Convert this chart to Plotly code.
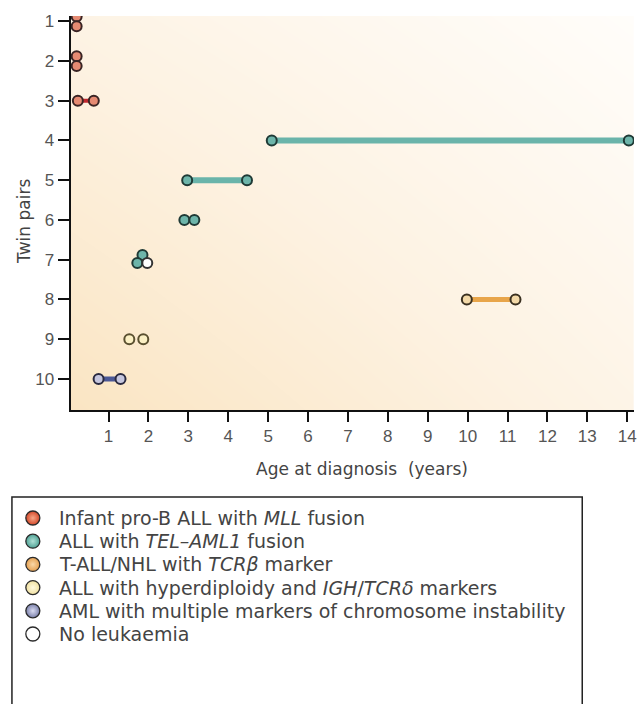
import plotly.graph_objects as go

# ---------------- data ----------------
group_keys = ["MLL", "TEL", "TALL", "HYP", "AML", "NONE"]
group_labels = [
    "Infant pro-B ALL with <i>MLL</i> fusion",
    "ALL with <i>TEL–AML1</i> fusion",
    "T-ALL/NHL with <i>TCRβ</i> marker",
    "ALL with hyperdiploidy and <i>IGH</i>/<i>TCRδ</i> markers",
    "AML with multiple markers of chromosome instability",
    "No leukaemia",
]

twin_pair = [1, 1, 2, 2, 3, 3, 4, 4, 5, 5, 6, 6, 7, 7, 7, 8, 8, 9, 9, 10, 10]
age_years = [0.2, 0.2, 0.2, 0.2, 0.23, 0.63, 5.09, 14.04, 2.97, 4.47, 2.9, 3.15,
             1.85, 1.72, 1.97, 9.98, 11.2, 1.52, 1.87, 0.75, 1.3]
diagnosis = ["MLL", "MLL", "MLL", "MLL", "MLL", "MLL", "TEL", "TEL", "TEL", "TEL",
             "TEL", "TEL", "TEL", "TEL", "NONE", "TALL", "TALL", "HYP", "HYP", "AML", "AML"]
stack_offset = [-0.12, 0.13, -0.12, 0.13, 0, 0, 0, 0, 0, 0, 0, 0,
                -0.12, 0.08, 0.08, 0, 0, 0, 0, 0, 0]
linked_pairs = [3, 4, 5, 8, 10]

pair_ticks = list(range(1, 11))
age_ticks = list(range(1, 15))

# ---------------- styles ----------------
line_color = {"MLL": "#c0282e", "TEL": "#6ab4aa", "TALL": "#e8a54a", "AML": "#4b5896"}
line_width = {"MLL": 4, "TEL": 6, "TALL": 5, "AML": 5}
fill_color = {"MLL": "#e58a72", "TEL": "#6db5aa", "TALL": "#f3d9a8",
              "HYP": "#fbf0c4", "AML": "#c5c6de", "NONE": "#ffffff"}
edge_color = {"MLL": "#3a2424", "TEL": "#1f3a36", "TALL": "#3a3020",
              "HYP": "#5a5030", "AML": "#2a2a40", "NONE": "#333333"}
legend_edge = {"MLL": "#d4482a", "TEL": "#4fa295", "TALL": "#e5a050",
               "HYP": "#f0e0a0", "AML": "#7a80aa", "NONE": "#ffffff"}
legend_center = {"MLL": "#f6a888", "TEL": "#b0e0d6", "TALL": "#fad8a8",
                 "HYP": "#fffae0", "AML": "#dadcf2", "NONE": "#ffffff"}

W, H = 637, 704
X0PX, YAXPX, TOPPX = 71, 410, 16
xr = [0.05, 14.17]
yr = [10.78, 0.87]

fig = go.Figure()

# background gradient (decoration)
fig.add_trace(go.Heatmap(
    x=xr, y=[yr[0], yr[1]], z=[[0.0, 0.6], [0.55, 1.0]],
    colorscale=[[0, "#fae5c3"], [0.5, "#fdf2e2"], [1, "#fffdfa"]],
    zsmooth="best", showscale=False, hoverinfo="skip", xaxis="x", yaxis="y"))

# connecting lines
for p in linked_pairs:
    idx = [i for i, tp in enumerate(twin_pair) if tp == p]
    ages = [age_years[i] for i in idx]
    g = diagnosis[idx[0]]
    fig.add_trace(go.Scatter(
        x=[min(ages), max(ages)], y=[p, p], mode="lines",
        line=dict(color=line_color[g], width=line_width[g]),
        hoverinfo="skip", showlegend=False, xaxis="x", yaxis="y"))

# twin markers
for g in group_keys:
    idx = [i for i, d in enumerate(diagnosis) if d == g]
    if not idx:
        continue
    fig.add_trace(go.Scatter(
        x=[age_years[i] for i in idx],
        y=[twin_pair[i] + stack_offset[i] for i in idx],
        mode="markers",
        marker=dict(size=10, color=fill_color[g],
                    line=dict(color=edge_color[g], width=2)),
        showlegend=False, xaxis="x", yaxis="y"))

# custom legend (pixel-coordinate overlay axes)
LEG_Y0, LEG_DY = 518, 23.2
leg_y = [LEG_Y0 + LEG_DY * i for i in range(len(group_keys))]
fig.add_trace(go.Scatter(
    x=[33] * len(group_keys), y=leg_y, mode="markers",
    marker=dict(size=14, color=[legend_edge[g] for g in group_keys],
                gradient=dict(type="radial", color=[legend_center[g] for g in group_keys]),
                line=dict(color="#2a2a2a", width=1.3)),
    hoverinfo="skip", showlegend=False, xaxis="x2", yaxis="y2"))

annotations = []
for lbl, yy in zip(group_labels, leg_y):
    annotations.append(dict(
        x=57, y=yy, xref="x2", yref="y2", text=lbl, showarrow=False,
        xanchor="left", yanchor="middle",
        font=dict(family="DejaVu Sans", size=19, color="#444444")))

annotations.append(dict(
    x=364, y=469, xref="x2", yref="y2", text="Age at diagnosis&nbsp; (years)",
    showarrow=False, xanchor="center", yanchor="middle",
    font=dict(family="DejaVu Sans", size=17, color="#444444")))
annotations.append(dict(
    x=24, y=221, xref="x2", yref="y2", text="Twin pairs", textangle=-90,
    showarrow=False, xanchor="center", yanchor="middle",
    font=dict(family="DejaVu Sans", size=17, color="#444444")))

shapes = [dict(type="rect", xref="x2", yref="y2", x0=12, x1=585, y0=497, y1=720,
               line=dict(color="#222222", width=1.5), fillcolor="rgba(0,0,0,0)", layer="above")]

tickfont = dict(family="Arial", size=17, color="#555555")
fig.update_layout(
    width=W, height=H,
    margin=dict(l=0, r=0, t=TOPPX, b=0),
    paper_bgcolor="white", plot_bgcolor="rgba(0,0,0,0)",
    showlegend=False,
    xaxis=dict(domain=[X0PX / W, 1], range=xr, tickvals=age_ticks,
               ticktext=[str(v) for v in age_ticks], ticks="outside", ticklen=10,
               tickwidth=1.5, tickcolor="#111", showline=True, linecolor="#111",
               linewidth=2, showgrid=False, zeroline=False, tickfont=tickfont,
               ticklabeloverflow="allow", anchor="y", fixedrange=True),
    yaxis=dict(domain=[(H - YAXPX) / (H - TOPPX), 1], range=yr, tickvals=pair_ticks,
               ticktext=[str(v) for v in pair_ticks], ticks="outside", ticklen=11,
               tickwidth=1.5, tickcolor="#111", showline=True, linecolor="#111",
               linewidth=2, showgrid=False, zeroline=False, tickfont=tickfont,
               ticklabeloverflow="allow", anchor="x", fixedrange=True),
    xaxis2=dict(domain=[0, 1], range=[0, W], visible=False, anchor="y2", fixedrange=True),
    yaxis2=dict(domain=[0, 1], range=[H, TOPPX], visible=False, anchor="x2", fixedrange=True),
    annotations=annotations,
    shapes=shapes,
)

fig.write_html("out.html")
